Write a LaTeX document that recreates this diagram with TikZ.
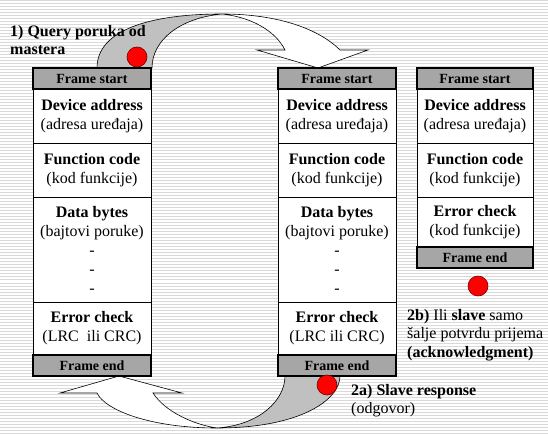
\documentclass[tikz,border=0pt]{standalone}
\usepackage{fontspec}
\setmainfont{Liberation Serif}
\usetikzlibrary{positioning}
\definecolor{hdrgray}{HTML}{A6A6A6}
\definecolor{ribbongray}{HTML}{C0C0C0}
\definecolor{stripegray}{HTML}{D9D9D9}
\definecolor{dotred}{HTML}{FF0000}

\begin{document}
\begin{tikzpicture}[
    x=1pt, y=-1pt,
    hdr/.style={draw, line width=1.1pt, fill=hdrgray, minimum width=118pt, minimum height=21pt, inner sep=0pt, outer sep=0pt, font=\fontsize{14}{16}\selectfont\bfseries},
    fld/.style={draw, line width=0.8pt, fill=white, minimum width=118pt, inner sep=0pt, outer sep=0pt, align=center, font=\fontsize{16}{19}\selectfont},
    lbl/.style={align=left, inner sep=0pt, font=\fontsize{16}{18.5}\selectfont},
    dot/.style={circle, fill=dotred, draw=red!45!black, line width=0.6pt, minimum size=20pt, inner sep=0pt},
    ribbon/.style={draw, line width=0.6pt, fill=ribbongray},
    front/.style={draw, line width=0.6pt, fill=white},
    stripe/.style={draw=stripegray, line width=1pt}
]
\useasboundingbox (0,0) rectangle (548,435);
\fill[white] (0,0) rectangle (548,435);
\foreach \y in {1,4,...,434}
    \draw[stripe] (0,\y) -- (548,\y);

% query ribbon, master -> slave
\filldraw[ribbon] (97,68) .. controls (97,30) and (150,14) .. (222,14)
    .. controls (180,18) and (152,40) .. (152,68) -- cycle;
\filldraw[front] (222,14) .. controls (280,14) and (320,30) .. (340,50) -- (368,50) -- (318,68) -- (257,50) -- (285,50)
    .. controls (275,30) and (250,17) .. (222,14) -- cycle;

% response ribbon, slave -> master
\filldraw[ribbon] (285,376) .. controls (285,400) and (260,425) .. (217,428)
    .. controls (300,428) and (340,400) .. (340,376) -- cycle;
\filldraw[front] (217,428) .. controls (150,428) and (105,410) .. (97,393) -- (60,393) -- (119,376) -- (182,393) -- (153,393)
    .. controls (165,412) and (195,425) .. (217,428) -- cycle;

% query frame
\node[hdr] (startA) at (92,78.5) {Frame start};
\node[fld, minimum height=54pt, below=0pt of startA] (addrA) {\textbf{Device address}\\(adresa uređaja)};
\node[fld, minimum height=54pt, below=0pt of addrA] (funcA) {\textbf{Function code}\\(kod funkcije)};
\node[fld, minimum height=105pt, below=0pt of funcA] (dataA) {\textbf{Data bytes}\\(bajtovi poruke)\\-\\-\\-};
\node[fld, minimum height=53pt, below=0pt of dataA] (crcA) {\textbf{Error check}\\(LRC\ \ ili CRC)};
\node[hdr, below=0pt of crcA] (endA) {Frame end};

% response frame
\node[hdr] (startB) at (337,78.5) {Frame start};
\node[fld, minimum height=54pt, below=0pt of startB] (addrB) {\textbf{Device address}\\(adresa uređaja)};
\node[fld, minimum height=54pt, below=0pt of addrB] (funcB) {\textbf{Function code}\\(kod funkcije)};
\node[fld, minimum height=105pt, below=0pt of funcB] (dataB) {\textbf{Data bytes}\\(bajtovi poruke)\\-\\-\\-};
\node[fld, minimum height=53pt, below=0pt of dataB] (crcB) {\textbf{Error check}\\(LRC ili CRC)};
\node[hdr, below=0pt of crcB] (endB) {Frame end};

% acknowledgment frame
\node[hdr, minimum width=116pt] (startC) at (475,78.5) {Frame start};
\node[fld, minimum width=116pt, minimum height=54pt, below=0pt of startC] (addrC) {\textbf{Device address}\\(adresa uređaja)};
\node[fld, minimum width=116pt, minimum height=54pt, below=0pt of addrC] (funcC) {\textbf{Function code}\\(kod funkcije)};
\node[fld, minimum width=116pt, minimum height=50pt, below=0pt of funcC] (crcC) {\textbf{Error check}\\(kod funkcije)};
\node[hdr, minimum width=116pt, below=0pt of crcC] (endC) {Frame end};

\node[dot] (queryDot) at (137,57) {};
\node[dot] (respDot) at (327,385) {};
\node[dot] (ackDot) at (478,286) {};

\node[lbl, anchor=north west] (queryLbl) at (10,25) {\textbf{1) Query poruka od}\\\textbf{mastera}};
\node[lbl, anchor=north west] (ackLbl) at (407,309) {\textbf{2b)} Ili \textbf{slave} samo\\šalje potvrdu prijema\\\textbf{(acknowledgment)}};
\node[lbl, anchor=north west] (respLbl) at (351,384) {\textbf{2a) Slave response}\\(odgovor)};
\end{tikzpicture}
\end{document}
